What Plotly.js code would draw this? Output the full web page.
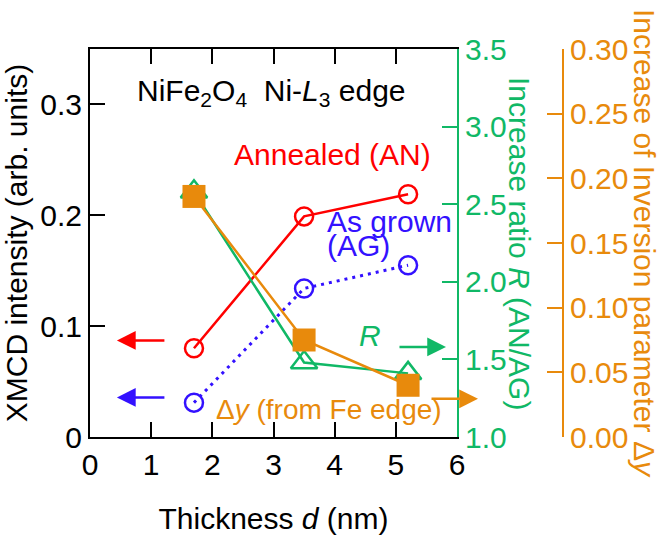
<!DOCTYPE html>
<html>
<head>
<meta charset="utf-8">
<script src="https://cdn.plot.ly/plotly-3.0.1.min.js"></script>
<style>html,body{margin:0;padding:0;background:#fff;}#chart{width:660px;height:539px;}</style>
</head>
<body>
<div id="chart"></div>
<script>
// Data
const thickness = [1.7, 3.5, 5.2];              // d (nm)
const xmcdAnnealed = [0.080, 0.199, 0.219];     // XMCD intensity, AN
const xmcdAsGrown = [0.031, 0.134, 0.155];      // XMCD intensity, AG
const ratioR = [2.58, 1.48, 1.41];              // Increase ratio R (AN/AG)
const deltaY = [0.186, 0.075, 0.040];           // Increase of inversion parameter Δy

const xTicks = [0, 1, 2, 3, 4, 5, 6];
const leftTicks = [0, 0.1, 0.2, 0.3];
const rTicks = [1.0, 1.5, 2.0, 2.5, 3.0, 3.5];
const dyTicks = [0.00, 0.05, 0.10, 0.15, 0.20, 0.25, 0.30];

const RED = '#ff0000';
const BLUE = '#3311ff';
const GREEN = '#10b866';
const ORANGE = '#e88a0c';
const FONT = '"Liberation Sans", Arial, Helvetica, sans-serif';

const traces = [
  {
    x: thickness, y: xmcdAnnealed, xaxis: 'x', yaxis: 'y', type: 'scatter', mode: 'lines+markers',
    line: {color: RED, width: 2.5},
    marker: {symbol: 'circle-open', size: 18, color: RED, line: {width: 2.5, color: RED}},
    name: 'Annealed (AN)', showlegend: false, cliponaxis: false
  },
  {
    x: thickness, y: xmcdAsGrown, xaxis: 'x', yaxis: 'y', type: 'scatter', mode: 'lines+markers',
    line: {color: BLUE, width: 3, dash: '3px,5px'},
    marker: {symbol: 'circle-open', size: 18, color: BLUE, line: {width: 2.5, color: BLUE}},
    name: 'As grown (AG)', showlegend: false, cliponaxis: false
  },
  {
    x: thickness, y: ratioR, xaxis: 'x', yaxis: 'y2', type: 'scatter', mode: 'lines+markers',
    line: {color: GREEN, width: 2.5},
    marker: {symbol: 'triangle-up-open', size: 23, color: GREEN, line: {width: 2.5, color: GREEN}},
    name: 'R', showlegend: false, cliponaxis: false
  },
  {
    x: thickness, y: deltaY, xaxis: 'x', yaxis: 'y3', type: 'scatter', mode: 'lines+markers',
    line: {color: ORANGE, width: 2.5},
    marker: {symbol: 'square', size: 23, color: ORANGE},
    name: 'Δy', showlegend: false, cliponaxis: false
  }
];

const layout = {
  width: 660, height: 539,
  margin: {l: 90, r: 97, t: 49, b: 102, pad: 0},
  paper_bgcolor: '#ffffff', plot_bgcolor: '#ffffff',
  font: {family: FONT, size: 30, color: '#000'},
  showlegend: false,
  xaxis: {
    domain: [0, 367 / 473], range: [0, 6], tickvals: xTicks, ticktext: xTicks.map(String),
    ticks: 'inside', ticklen: 15, tickwidth: 2, tickcolor: '#000',
    showline: true, linecolor: '#000', linewidth: 2, mirror: 'ticks',
    showgrid: false, zeroline: false, tickfont: {size: 30, color: '#000'},
    title: {text: 'Thickness <i>d</i> (nm)', font: {size: 30, color: '#000'}, standoff: 28}
  },
  yaxis: {
    range: [0, 0.35], tickvals: leftTicks, ticktext: ['0', '0.1', '0.2', '0.3'],
    ticks: 'inside', ticklen: 15, tickwidth: 2, tickcolor: '#000',
    showline: true, linecolor: '#000', linewidth: 2,
    showgrid: false, zeroline: false, tickfont: {size: 30, color: '#000'},
    title: {text: 'XMCD intensity (arb. units)', font: {size: 30, color: '#000'}, standoff: 4}
  },
  yaxis2: {
    overlaying: 'y', side: 'right', anchor: 'x', range: [1, 3.5],
    tickvals: rTicks, ticktext: rTicks.map(v => v.toFixed(1)),
    ticks: 'inside', ticklen: 15, tickwidth: 2, tickcolor: GREEN,
    showline: true, linecolor: GREEN, linewidth: 2,
    showgrid: false, zeroline: false, tickfont: {size: 30, color: GREEN}
  },
  yaxis3: {
    overlaying: 'y', side: 'right', anchor: 'free', position: 1, range: [0, 0.30],
    tickvals: dyTicks, ticktext: dyTicks.map(v => v.toFixed(2)),
    ticks: 'inside', ticklen: 15, tickwidth: 2, tickcolor: ORANGE,
    showline: true, linecolor: ORANGE, linewidth: 2,
    showgrid: false, zeroline: false, tickfont: {size: 30, color: ORANGE}
  },
  annotations: [
    {xref: 'x', yref: 'y', x: 2.96, y: 0.3106, xanchor: 'center', showarrow: false,
     text: 'NiFe<sub>2</sub>O<sub>4</sub>  Ni-<i>L</i><sub>3</sub> edge', font: {size: 30, color: '#000'}},
    {xref: 'x', yref: 'y', x: 3.96, y: 0.2546, xanchor: 'center', showarrow: false,
     text: 'Annealed (AN)', font: {size: 30, color: RED}},
    {xref: 'x', yref: 'y', x: 3.84, y: 0.1942, xanchor: 'left', showarrow: false,
     text: 'As grown', font: {size: 30, color: BLUE}},
    {xref: 'x', yref: 'y', x: 3.84, y: 0.1730, xanchor: 'left', showarrow: false,
     text: '(AG)', font: {size: 30, color: BLUE}},
    {xref: 'x', yref: 'y', x: 4.58, y: 0.0915, xanchor: 'center', showarrow: false,
     text: '<i>R</i>', font: {size: 30, color: GREEN}},
    {xref: 'x', yref: 'y', x: 3.91, y: 0.0246, xanchor: 'center', showarrow: false,
     text: 'Δ<i>y</i> (from Fe edge)', font: {size: 28, color: ORANGE}},
    // arrows
    {xref: 'x', yref: 'y', x: 0.44, y: 0.0871, axref: 'pixel', ayref: 'pixel', ax: 49, ay: 0,
     text: '', showarrow: true, arrowhead: 2, arrowsize: 1.5, arrowwidth: 2.5, arrowcolor: RED},
    {xref: 'x', yref: 'y', x: 0.44, y: 0.0357, axref: 'pixel', ayref: 'pixel', ax: 49, ay: 0,
     text: '', showarrow: true, arrowhead: 2, arrowsize: 1.5, arrowwidth: 2.5, arrowcolor: BLUE},
    {xref: 'x', yref: 'y', x: 5.82, y: 0.0812, axref: 'pixel', ayref: 'pixel', ax: -48, ay: 0,
     text: '', showarrow: true, arrowhead: 2, arrowsize: 1.5, arrowwidth: 2.5, arrowcolor: GREEN},
    {xref: 'paper', yref: 'y', x: (478 - 90) / 473, y: 0.0345, axref: 'pixel', ayref: 'pixel', ax: -48, ay: 0,
     text: '', showarrow: true, arrowhead: 2, arrowsize: 1.5, arrowwidth: 2.5, arrowcolor: ORANGE},
    // right-hand axis titles (rotated to read top-to-bottom)
    {xref: 'paper', yref: 'paper', x: (520 - 90) / 473, y: 0.5, xanchor: 'center', yanchor: 'middle',
     textangle: 90, showarrow: false,
     text: 'Increase ratio <i>R</i> (AN/AG)', font: {size: 30, color: GREEN}},
    {xref: 'paper', yref: 'paper', x: (645 - 90) / 473, y: 0.5, xanchor: 'center', yanchor: 'middle',
     textangle: 90, showarrow: false,
     text: 'Increase of Inversion parameter Δ<i>y</i>', font: {size: 30, color: ORANGE}}
  ]
};

Plotly.newPlot('chart', traces, layout, {staticPlot: true, displayModeBar: false});
</script>
</body>
</html>
